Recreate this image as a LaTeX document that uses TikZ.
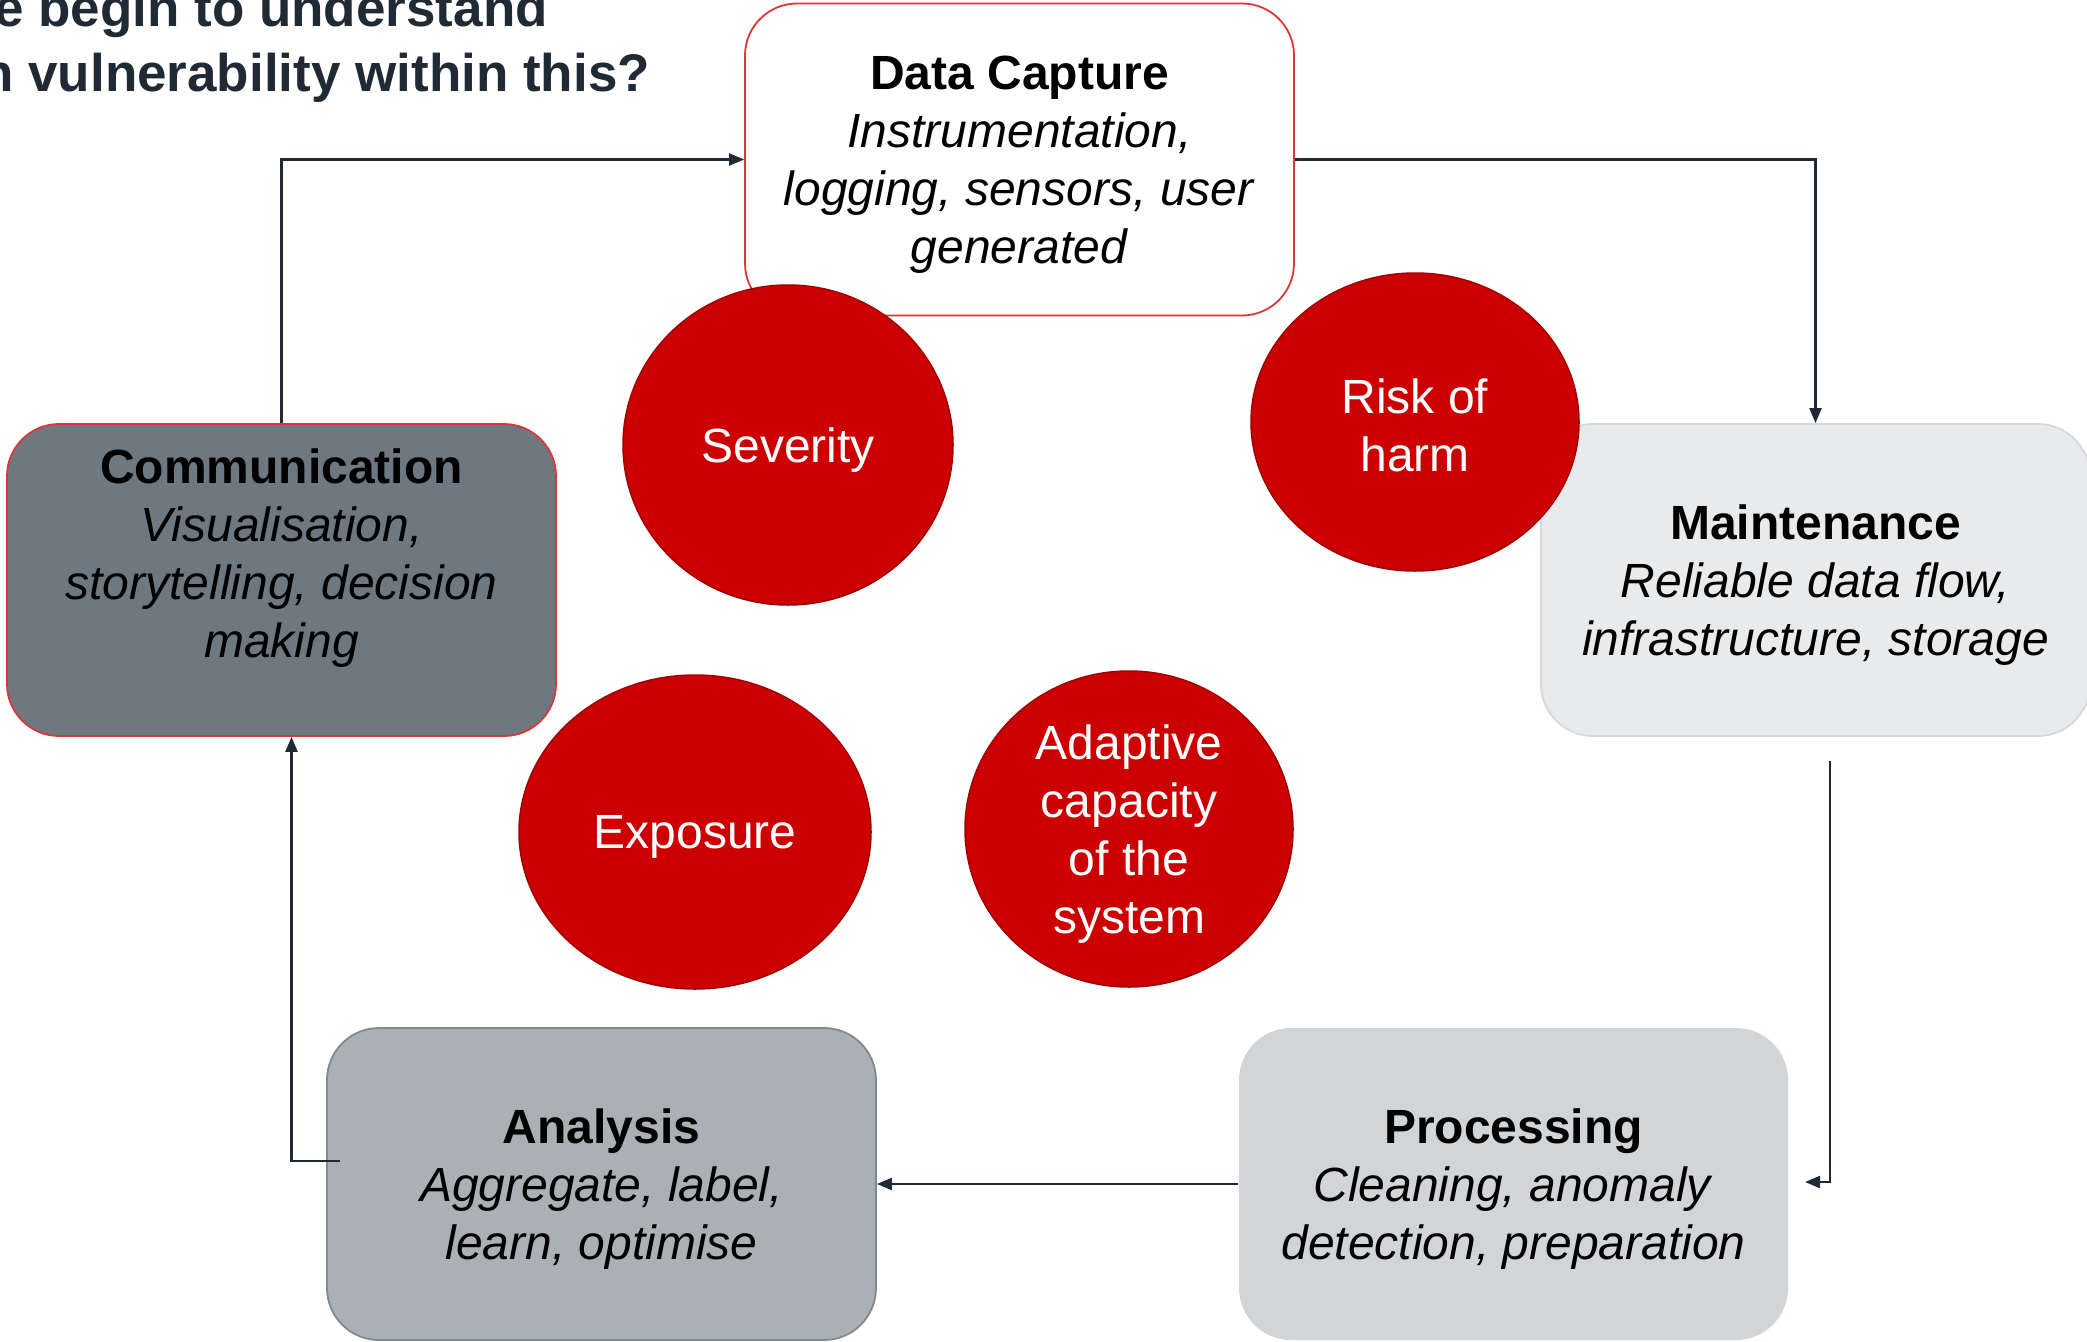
\documentclass[tikz,border=0pt]{standalone}
\usepackage{fontspec}
\setmainfont{Liberation Sans}
\usetikzlibrary{shapes.geometric,arrows.meta,calc}
\definecolor{navy}{HTML}{1F2A35}
\definecolor{redc}{HTML}{CC0000}
\definecolor{redb}{HTML}{A30000}
\definecolor{redline}{HTML}{D9383A}
\definecolor{commfill}{HTML}{6E7880}
\definecolor{maintfill}{HTML}{E9EAEC}
\definecolor{maintline}{HTML}{D6D8DB}
\definecolor{procfill}{HTML}{D2D5D8}
\definecolor{anafill}{HTML}{AAB1B5}
\definecolor{analine}{HTML}{808A92}
\begin{document}
\begin{tikzpicture}[x=1pt,y=-1pt,
  stagebox/.style={rectangle, rounded corners=52pt, minimum width=549pt, minimum height=312pt, inner sep=0pt, line width=1.8pt},
  stagetext/.style={align=center, font=\fontsize{48}{58}\selectfont, inner sep=0pt},
  blob/.style={ellipse, fill=redc, draw=redb, line width=1.5pt, inner sep=0pt},
  blobtext/.style={align=center, text=white, font=\fontsize{48}{58}\selectfont, inner sep=0pt},
  arr/.style={draw=navy, line width=2.2pt, -{Triangle[length=15pt,width=12pt]}},
  titletext/.style={font=\fontsize{53}{63}\selectfont\bfseries, text=navy, inner sep=0pt}
]
\useasboundingbox (0,0) rectangle (2087,1341);
\clip (0,0) rectangle (2087,1341);

% title
\node[titletext, anchor=base east] (t1) at (548,27) {e begin to understand};
\node[titletext, anchor=base east] (t2) at (650,91) {n vulnerability within this?};

% stage boxes
\node[stagebox, fill=white, draw=redline] (cap) at (1019.5,159.5) {};
\node[stagetext] (capT) at ([yshift=-5pt]cap.center)
  {\textbf{Data Capture}\\\textit{Instrumentation,}\\\textit{logging, sensors, user}\\\textit{generated}};
\node[stagebox, fill=commfill, draw=redline] (comm) at (281.5,580) {};
\node[stagetext] (commT) at ([yshift=22pt]comm.center)
  {\textbf{Communication}\\\textit{Visualisation,}\\\textit{storytelling, decision}\\\textit{making}};
\node[stagebox, fill=maintfill, draw=maintline] (maint) at (1815.5,580) {};
\node[stagetext] (maintT) at ([yshift=-5pt]maint.center)
  {\textbf{Maintenance}\\\textit{Reliable data flow,}\\\textit{infrastructure, storage}};
\node[stagebox, fill=procfill] (proc) at (1513.5,1184) {};
\node[stagetext] (procT) at ([yshift=-5pt]proc.center)
  {\textbf{Processing}\\\textit{Cleaning, anomaly}\\\textit{detection, preparation}};
\node[stagebox, fill=anafill, draw=analine] (ana) at (601.5,1184) {};
\node[stagetext] (anaT) at ([yshift=-5pt]ana.center)
  {\textbf{Analysis}\\\textit{Aggregate, label,}\\\textit{learn, optimise}};

% red circles
\node[blob, minimum width=330pt, minimum height=320pt] (sev) at (788,445) {};
\node[blobtext] (sevT) at ([yshift=-5pt]sev.center) {Severity};
\node[blob, minimum width=328pt, minimum height=298pt] (risk) at (1415,422) {};
\node[blobtext] (riskT) at ([yshift=-3pt]risk.center) {Risk of\\harm};
\node[blob, minimum width=352pt, minimum height=314pt] (expo) at (695,832) {};
\node[blobtext] (expoT) at ([yshift=-5pt]expo.center) {Exposure};
\node[blob, minimum width=328pt, minimum height=316pt] (adapt) at (1129,829) {};
\node[blobtext] (adaptT) at ([yshift=-5pt]adapt.center) {Adaptive\\capacity\\of the\\system};

% connectors
\draw[arr] (comm.north) |- (cap.west);
\draw[arr] (cap.east) -| (maint.north);
\coordinate (mp1) at (1830,761);
\coordinate (mp2) at (1805,1182);
\draw[arr] (mp1) |- (mp2);
\draw[arr] (proc.west) -- (ana.east);
\coordinate (ac1) at (340,1161);
\draw[arr] (ac1) -| ([xshift=10pt]comm.south);
\end{tikzpicture}
\end{document}
